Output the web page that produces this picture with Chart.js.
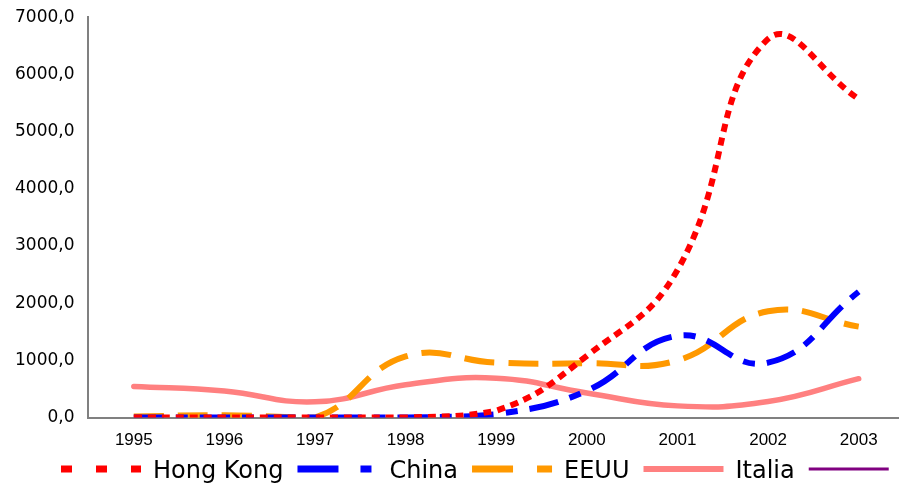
<!DOCTYPE html>
<html lang="es">
<head>
  <meta charset="UTF-8">
  <title>Hong Kong, China, EEUU, Italia</title>
  <script src="https://cdn.jsdelivr.net/npm/chart.js"></script>
  <style>
    html, body { margin: 0; padding: 0; background: #fff; overflow: hidden; }
    /* el lienzo sube 7px: el eje Y no deja acercar mas el borde superior */
    #wrap { width: 904px; height: 492px; margin-top: -7px; }
  </style>
</head>
<body>
  <div id="wrap"><canvas id="grafico"></canvas></div>
  <script>
    // datos
    const anios = ['1995', '1996', '1997', '1998', '1999', '2000', '2001', '2002', '2003'];
    const hongKong = [0, 0, 0, 0, 120, 1080, 2580, 6620, 5570];
    const china = [0, 0, 0, 0, 60, 470, 1430, 960, 2200];
    const eeuu = [20, 40, 0, 1070, 960, 950, 1000, 1860, 1590];
    const italia = [545, 465, 275, 575, 690, 430, 205, 280, 680];
    const sinNombre = [];
    const ticksY = [0, 1000, 2000, 3000, 4000, 5000, 6000, 7000];

    // trazos de la leyenda (no son iguales a los de las lineas)
    const dashLeyenda = [[11, 24], [41, 22, 11, 22], [41, 24], [], []];
    const anchoLeyenda = [7, 7, 7, 6, 3];

    // leyenda dibujada a mano, como en el original (no va centrada)
    const leyendaPlugin = {
      id: 'leyendaExcel',
      afterDraw(chart) {
        const c = chart.ctx;
        let x = 61;
        const yLinea = 476, yTexto = 485;
        c.save();
        c.font = '24px "DejaVu Sans"';
        c.fillStyle = '#000';
        c.textBaseline = 'alphabetic';
        chart.data.datasets.forEach((ds, i) => {
          c.beginPath();
          c.setLineDash(dashLeyenda[i]);
          c.lineWidth = anchoLeyenda[i];
          c.strokeStyle = ds.borderColor;
          c.lineCap = 'butt';
          c.moveTo(x, yLinea);
          c.lineTo(x + 80, yLinea);
          c.stroke();
          x += 92;
          if (ds.label) {
            c.fillText(ds.label, x, yTexto);
            x += c.measureText(ds.label).width + 14;
          }
        });
        c.restore();
      }
    };

    const ctx = document.getElementById('grafico').getContext('2d');

    new Chart(ctx, {
      type: 'line',
      data: {
        labels: anios,
        datasets: [
          { label: 'Hong Kong', data: hongKong, borderColor: '#ff0000', borderDash: [8, 6] },
          { label: 'China', data: china, borderColor: '#0000ff', borderDash: [30, 12, 12, 12] },
          { label: 'EEUU', data: eeuu, borderColor: '#ff9900', borderDash: [30, 14] },
          { label: 'Italia', data: italia, borderColor: '#ff8080', borderCapStyle: 'round', borderWidth: 5.5 },
          { label: '', data: sinNombre, borderColor: '#800080', borderWidth: 3 }
        ].map(d => Object.assign({
          borderWidth: 6,
          backgroundColor: d.borderColor,
          pointRadius: 0,
          tension: 0.45,
          fill: false,
          clip: 0
        }, d))
      },
      options: {
        responsive: true,
        maintainAspectRatio: false,
        animation: false,
        layout: { padding: { left: 1, top: 8, right: 0, bottom: 21 } },
        scales: {
          x: {
            offset: true,
            grid: { display: false, drawTicks: false },
            border: { color: '#808080', width: 2 },
            ticks: {
              padding: 13,
              color: '#000',
              font: { family: 'Liberation Sans', size: 17 }
            }
          },
          y: {
            min: 0,
            max: 7000,
            afterBuildTicks: axis => { axis.ticks = ticksY.map(v => ({ value: v })); },
            grid: { display: false, drawTicks: false },
            border: { color: '#808080', width: 2 },
            ticks: {
              padding: 14,
              color: '#000',
              font: { family: 'DejaVu Sans', size: 17 },
              callback: v => v.toFixed(1).replace('.', ',')
            }
          }
        },
        plugins: {
          tooltip: { enabled: false },
          legend: { display: false }
        }
      },
      plugins: [leyendaPlugin]
    });
  </script>
</body>
</html>
